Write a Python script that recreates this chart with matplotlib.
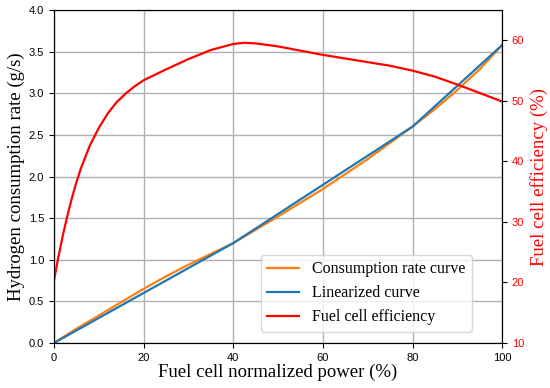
import numpy as np
import matplotlib.pyplot as plt

# power (%) and hydrogen consumption (g/s)
power = [0, 5, 10, 15, 20, 25, 30, 35, 40, 50, 60, 70, 80, 85, 90, 95, 100]
consumption = [0, 0.17, 0.33, 0.49, 0.65, 0.80, 0.94, 1.07, 1.20, 1.52, 1.85, 2.21, 2.60, 2.81, 3.04, 3.29, 3.58]

# linearized curve breakpoints
lin_power = [0, 40, 80, 100]
lin_consumption = [0, 1.20, 2.60, 3.58]

# efficiency (%)
eff_power = [0, 1, 2, 3, 4, 5, 6, 8, 10, 12, 14, 16, 18, 20, 25, 30, 35, 40, 42.5, 45,
             50, 55, 60, 65, 70, 75, 80, 85, 90, 95, 100]
efficiency = [20.3, 24.2, 27.8, 31.0, 33.9, 36.5, 38.8, 42.6, 45.5, 47.9, 49.8, 51.2, 52.4, 53.4,
              55.2, 56.9, 58.4, 59.4, 59.6, 59.5,
              59.0, 58.3, 57.6, 57.0, 56.4, 55.8, 55.0, 54.0, 52.7, 51.3, 49.9]

serif = 'Liberation Serif'
sans = 'Liberation Sans'

fig, ax = plt.subplots(figsize=(5.5, 3.88), dpi=100)
fig.subplots_adjust(left=0.098, right=0.913, top=0.974, bottom=0.116)

l1, = ax.plot(power, consumption, color='#ff7f0e', lw=1.6, label='Consumption rate curve')
l2, = ax.plot(lin_power, lin_consumption, color='#1f77b4', lw=1.6, label='Linearized curve')
ax.set_xlim(0, 100)
ax.set_ylim(0, 4)
ax.set_yticks(np.arange(0, 4.01, 0.5))
ax.grid(True, color='#b0b0b0', lw=1)
ax.set_axisbelow(True)
ax.set_xlabel('Fuel cell normalized power (%)', fontfamily=serif, fontsize=13.5, labelpad=1)
ax.set_ylabel('Hydrogen consumption rate (g/s)', fontfamily=serif, fontsize=13.5, labelpad=3)
for lab in ax.get_xticklabels() + ax.get_yticklabels():
    lab.set_fontfamily(sans)
    lab.set_fontsize(8)

ax2 = ax.twinx()
l3, = ax2.plot(eff_power, efficiency, color='red', lw=1.6, label='Fuel cell efficiency')
ax2.set_ylim(10, 65)
ax2.set_yticks([10, 20, 30, 40, 50, 60])
ax2.set_ylabel('Fuel cell efficiency (%)', fontfamily=serif, fontsize=13.5, color='red')
ax2.tick_params(axis='y', labelcolor='red')
for lab in ax2.get_yticklabels():
    lab.set_fontfamily(sans)
    lab.set_fontsize(8)

ax2.legend(handles=[l1, l2, l3], loc='lower right', bbox_to_anchor=(0.95, 0.01),
           prop={'family': serif, 'size': 11.5})

plt.savefig('out.png')
